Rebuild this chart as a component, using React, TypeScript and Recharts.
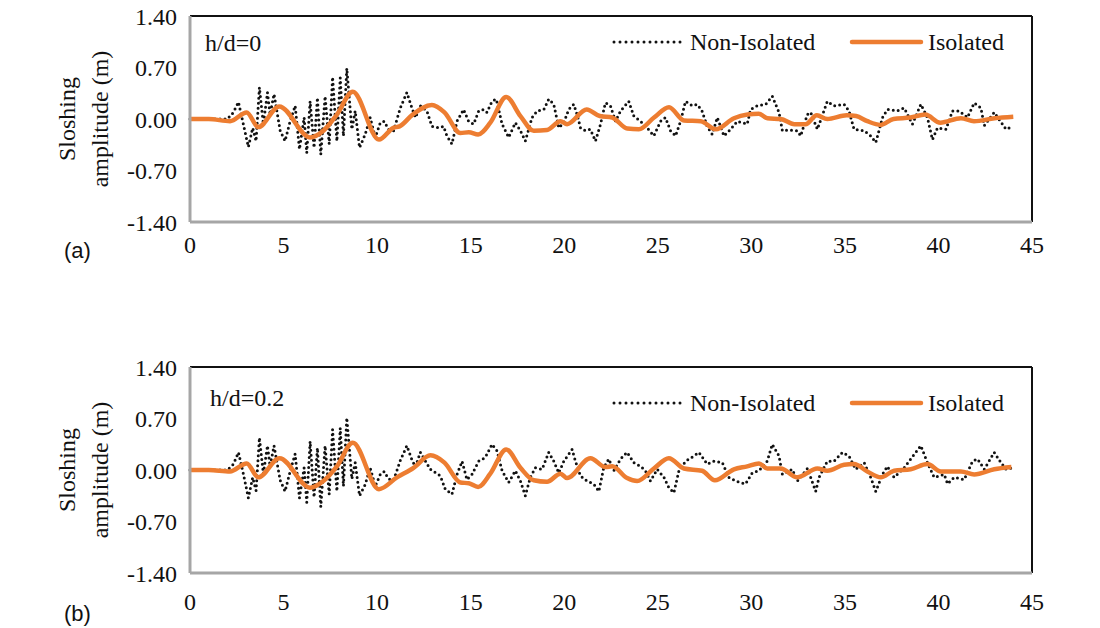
import React from 'react';
import { LineChart, Line, XAxis, YAxis, ReferenceLine, Customized } from 'recharts';

type Pt = [number, number];

const xTicks = [0, 5, 10, 15, 20, 25, 30, 35, 40, 45];
const yTicks = [-1.4, -0.7, 0, 0.7, 1.4];

// (a) h/d = 0  — [time (s), amplitude (m)]
const nonIsolatedA: Pt[] = [
  [0, 0], [1, 0], [2, 0], [2.32, 0.09], [2.59, 0.23], [2.85, -0.07], [3.12, -0.38], [3.35, -0.12], [3.53, -0.3],
  [3.71, 0.43], [3.92, -0.07], [4.14, 0.36], [4.28, 0.06], [4.49, 0.34], [4.82, -0.16], [5.08, -0.3], [5.35, -0.03],
  [5.62, 0.18], [5.85, -0.41], [6.1, 0.02], [6.24, -0.46], [6.42, 0.24], [6.63, -0.39], [6.81, 0.29], [6.99, -0.48],
  [7.22, 0.31], [7.44, -0.34], [7.62, 0.57], [7.85, -0.3], [8.03, 0.56], [8.2, -0.23], [8.38, 0.69], [8.65, -0.14],
  [8.83, 0.11], [9.06, -0.39], [9.36, -0.21], [9.63, 0.02], [9.9, -0.25], [10.17, -0.05], [10.38, -0.03], [10.61, -0.14],
  [10.88, -0.16], [11.24, 0.15], [11.59, 0.36], [11.86, 0.15], [12.05, 0.02], [12.31, 0.18], [12.66, 0.11], [12.93, -0.1],
  [13.29, -0.12], [13.55, -0.1], [13.73, -0.23], [14.0, -0.34], [14.27, -0.03], [14.62, 0.13], [14.89, -0.03], [15.16, -0.07],
  [15.43, 0.11], [15.69, 0.13], [15.87, 0.09], [16.14, 0.24], [16.37, 0.27], [16.68, -0.07], [17.03, -0.25], [17.39, -0.05],
  [17.66, -0.16], [17.92, -0.3], [18.28, 0.02], [18.55, 0.11], [18.91, 0.13], [19.17, 0.27], [19.44, 0.2], [19.71, -0.12],
  [19.98, -0.05], [20.24, 0.13], [20.51, 0.2], [20.69, 0.06], [20.87, -0.12], [21.13, -0.16], [21.4, -0.14], [21.67, -0.3],
  [21.94, -0.07], [22.2, 0.22], [22.47, 0.18], [22.74, -0.03], [23.01, 0.11], [23.45, 0.24], [23.72, 0.04], [24.08, -0.03],
  [24.43, -0.12], [24.79, -0.23], [25.15, -0.03], [25.41, 0.02], [25.68, -0.16], [25.95, -0.23], [26.22, -0.03], [26.48, 0.24],
  [26.84, 0.18], [27.1, 0.2], [27.35, 0.12], [27.64, -0.1], [27.91, -0.21], [28.18, 0.02], [28.54, -0.23], [28.89, -0.14],
  [29.25, -0.03], [29.78, -0.07], [29.96, 0.13], [30.32, 0.18], [30.77, 0.2], [31.12, 0.31], [31.48, 0.09], [31.66, -0.16],
  [32.01, -0.15], [32.46, -0.16], [32.64, -0.23], [32.99, 0.06], [33.17, 0.09], [33.53, -0.14], [34.06, 0.24], [34.42, 0.18],
  [34.96, 0.2], [35.22, 0.11], [35.49, -0.14], [36.03, -0.16], [36.38, -0.23], [36.65, -0.32], [37.01, 0.02], [37.27, 0.13],
  [37.81, 0.11], [38.17, 0.15], [38.61, -0.07], [39.06, 0.2], [39.41, 0.02], [39.68, -0.28], [39.95, -0.12], [40.4, -0.14],
  [40.75, 0.11], [41.11, 0.11], [41.55, 0.02], [41.91, 0.22], [42.27, 0.15], [42.45, -0.09], [42.98, 0.09], [43.61, -0.14],
  [44.0, -0.1],
];

const isolatedA: Pt[] = [
  [0, 0], [1, 0], [2.14, -0.03], [3.03, 0.09], [3.65, -0.11], [4.77, 0.17], [6.42, -0.25], [7.13, -0.16], [7.85, 0.06],
  [8.7, 0.37], [10.1, -0.28], [10.87, -0.12], [11.2, -0.1], [11.9, 0.06], [12.93, 0.19], [13.6, 0.09], [14.45, -0.19],
  [14.9, -0.18], [15.4, -0.21], [16.05, -0.05], [16.9, 0.3], [17.66, 0.04], [18.37, -0.16], [19.08, -0.15], [19.8, -0.03],
  [20.15, -0.07], [21.2, 0.13], [21.9, 0.04], [22.56, 0.02], [23.37, -0.13], [23.99, -0.14], [24.8, 0.02], [25.6, 0.16],
  [26.4, -0.02], [27.3, -0.03], [28.1, -0.14], [29.07, 0.01], [29.8, 0.06], [30.4, 0.07], [30.86, 0.01], [31.57, 0],
  [32.3, -0.07], [32.9, -0.07], [33.5, 0.05], [34.06, 0], [35.1, 0.05], [35.6, 0.04], [36.2, -0.03], [36.9, -0.08],
  [37.6, 0], [38.5, 0.02], [39.3, 0.06], [40.1, -0.05], [41.2, 0.01], [41.9, -0.03], [43.0, 0.01], [44.0, 0.03],
];

// (b) h/d = 0.2
const nonIsolatedB: Pt[] = [
  [0, 0], [1, 0], [2, 0], [2.32, 0.08], [2.59, 0.24], [2.85, -0.05], [3.12, -0.38], [3.35, -0.1], [3.53, -0.28],
  [3.71, 0.44], [3.92, -0.05], [4.14, 0.33], [4.28, 0.05], [4.49, 0.33], [4.82, -0.14], [5.08, -0.29], [5.35, -0.02],
  [5.62, 0.22], [5.85, -0.38], [6.1, 0.03], [6.24, -0.44], [6.42, 0.39], [6.63, -0.37], [6.81, 0.3], [6.99, -0.5],
  [7.22, 0.33], [7.44, -0.33], [7.62, 0.55], [7.85, -0.29], [8.03, 0.57], [8.2, -0.22], [8.38, 0.71], [8.65, -0.12],
  [8.83, 0.1], [9.06, -0.35], [9.36, -0.2], [9.63, 0.03], [9.9, -0.22], [10.17, -0.06], [10.38, -0.02], [10.61, -0.12],
  [10.88, -0.14], [11.24, 0.13], [11.59, 0.33], [11.86, 0.14], [12.05, 0.04], [12.31, 0.24], [12.84, 0.01], [13.38, -0.08],
  [13.64, -0.26], [14.0, -0.33], [14.27, -0.06], [14.54, 0.12], [14.8, -0.13], [15.07, -0.06], [15.43, 0.12], [15.78, 0.17],
  [16.14, 0.35], [16.41, 0.26], [16.68, -0.01], [17.03, -0.17], [17.39, -0.01], [17.66, -0.15], [17.92, -0.35], [18.19, -0.1],
  [18.46, 0.03], [18.82, 0.01], [19.17, 0.24], [19.44, 0.12], [19.71, -0.04], [19.98, 0.12], [20.42, 0.28], [20.6, 0.12],
  [20.87, -0.08], [21.22, -0.15], [21.58, -0.19], [21.85, -0.29], [22.11, 0.03], [22.38, 0.15], [22.65, -0.01], [23.01, 0.15],
  [23.36, 0.24], [23.72, 0.1], [24.08, 0.05], [24.34, -0.01], [24.61, -0.15], [24.97, 0.01], [25.33, -0.1], [25.59, -0.24],
  [25.86, -0.31], [26.13, -0.01], [26.49, 0.12], [26.93, 0.19], [27.2, 0.24], [27.64, 0.08], [28.0, 0.12], [28.45, 0.1],
  [28.8, -0.1], [29.16, -0.15], [29.69, -0.19], [30.05, -0.04], [30.41, -0.01], [30.85, 0.12], [31.12, 0.35], [31.48, 0.19],
  [31.66, -0.06], [32.19, 0.01], [32.46, -0.15], [33.0, 0.02], [33.44, -0.29], [33.62, -0.1], [34.06, 0.12], [34.42, 0.12],
  [34.87, 0.24], [35.22, 0.19], [35.58, 0.01], [36.03, 0.1], [36.38, -0.1], [36.65, -0.29], [37.01, -0.06], [37.27, 0.05],
  [37.63, -0.1], [38.17, 0.03], [38.7, 0.21], [39.06, 0.33], [39.41, 0.1], [39.77, -0.1], [40.31, -0.06], [40.49, -0.19],
  [40.84, -0.1], [41.38, -0.13], [41.82, 0.12], [42.09, 0.15], [42.45, 0.01], [42.98, 0.24], [43.34, 0.1], [43.61, 0.01],
  [43.96, 0.03],
];

const isolatedB: Pt[] = [
  [0, 0], [1, 0], [2.14, -0.02], [3.03, 0.09], [3.65, -0.1], [4.78, 0.16], [6.42, -0.24], [7.13, -0.15], [7.85, 0.05],
  [8.7, 0.37], [10.1, -0.26], [11.06, -0.1], [11.95, 0.03], [12.85, 0.2], [13.6, 0.1], [14.45, -0.17], [14.9, -0.18],
  [15.4, -0.23], [16.05, -0.05], [16.9, 0.28], [17.66, 0.03], [18.37, -0.14], [19.08, -0.16], [19.8, -0.05], [20.15, -0.11],
  [21.4, 0.16], [22.2, 0.04], [22.56, 0.05], [23.36, -0.11], [23.9, -0.15], [24.79, 0.02], [25.59, 0.16], [26.4, 0.02],
  [27.37, -0.01], [28.05, -0.14], [29.07, 0.01], [29.78, 0.05], [30.41, 0.09], [30.85, 0.02], [31.57, 0.02], [32.46, -0.1],
  [33.53, 0.02], [34.06, -0.01], [34.96, 0.07], [35.49, 0.08], [36.2, -0.02], [36.92, -0.1], [37.63, -0.01], [38.52, 0.01],
  [39.41, 0.08], [40.13, -0.02], [41.2, -0.02], [41.91, -0.06], [42.98, 0.01], [43.9, 0.04],
];

const SERIF = "'Liberation Serif', 'Times New Roman', serif";
const SANS = "'Liberation Sans', Arial, sans-serif";
const ORANGE = '#ED7D31';
const INK = '#111';

const toRows = (pts: Pt[]) => pts.map(([t, v]) => ({ t, v }));

interface AnnoProps {
  caseLabel: string;
  caseX: number;
  caseY: number;
  legendY: number;
  tag: string;
  tagY: number;
}

const Annotations = ({ caseLabel, caseX, caseY, legendY, tag, tagY }: AnnoProps) => (
  <g>
    <text transform="translate(67,119) rotate(-90)" textAnchor="middle" dominantBaseline="central"
      fontFamily={SERIF} fontSize={24} fill={INK}>Sloshing</text>
    <text transform="translate(100,119) rotate(-90)" textAnchor="middle" dominantBaseline="central"
      fontFamily={SERIF} fontSize={24} fill={INK}>amplitude (m)</text>
    <text x={caseX} y={caseY} dominantBaseline="central" fontFamily={SERIF} fontSize={24} fill={INK}>{caseLabel}</text>
    <line x1={614} x2={683} y1={legendY} y2={legendY} stroke={INK} strokeWidth={3}
      strokeDasharray="0 6" strokeLinecap="round" />
    <text x={690} y={legendY} dominantBaseline="central" fontFamily={SERIF} fontSize={24} fill={INK}>Non-Isolated</text>
    <line x1={852} x2={921} y1={legendY} y2={legendY} stroke={ORANGE} strokeWidth={4.5} strokeLinecap="round" />
    <text x={928} y={legendY} dominantBaseline="central" fontFamily={SERIF} fontSize={24} fill={INK}>Isolated</text>
    <text x={64} y={tagY} dominantBaseline="central" fontFamily={SANS} fontSize={22} fill={INK}>{tag}</text>
  </g>
);

interface PanelProps extends AnnoProps {
  top: number;
  nonIso: Pt[];
  iso: Pt[];
  xTickMargin: number;
}

const tickStyle = { fill: INK, fontSize: 24, fontFamily: SERIF };

const Panel = ({ top, nonIso, iso, xTickMargin, ...anno }: PanelProps) => (
  <div style={{ position: 'absolute', left: 0, top, fontFamily: SERIF }}>
    <LineChart width={1100} height={280} margin={{ top: 16, right: 68, bottom: 18, left: 0 }}
      style={{ fontFamily: SERIF }}>
      <XAxis
        dataKey="t"
        type="number"
        domain={[0, 45]}
        ticks={xTicks}
        interval={0}
        height={40}
        tickLine={false}
        tickSize={0}
        tickMargin={xTickMargin}
        axisLine={{ stroke: '#a6a6a6', strokeWidth: 3 }}
        tick={tickStyle}
        fontFamily={SERIF}
      />
      <YAxis
        type="number"
        domain={[-1.4, 1.4]}
        ticks={yTicks}
        interval={0}
        width={190}
        tickLine={false}
        tickSize={0}
        tickMargin={13}
        axisLine={{ stroke: '#a6a6a6', strokeWidth: 3 }}
        tick={tickStyle}
        fontFamily={SERIF}
        tickFormatter={(v: number) => v.toFixed(2)}
      />
      <ReferenceLine y={1.4} stroke={INK} strokeWidth={2} />
      <ReferenceLine x={45} stroke={INK} strokeWidth={2} />
      <Line
        data={toRows(nonIso)}
        dataKey="v"
        type="linear"
        stroke={INK}
        strokeWidth={3}
        strokeDasharray="0 5"
        strokeLinecap="round"
        dot={false}
        isAnimationActive={false}
      />
      <Line
        data={toRows(iso)}
        dataKey="v"
        type="monotone"
        stroke={ORANGE}
        strokeWidth={4.5}
        dot={false}
        isAnimationActive={false}
      />
      <Customized component={() => <Annotations {...anno} />} />
    </LineChart>
  </div>
);

export default function App() {
  return (
    <div style={{ position: 'absolute', left: 0, top: 0, width: 1100, height: 628, overflow: 'hidden', background: '#fff' }}>
      <Panel top={0} nonIso={nonIsolatedA} iso={isolatedA} xTickMargin={14}
        caseLabel="h/d=0" caseX={205} caseY={43} legendY={42} tag="(a)" tagY={250} />
      <Panel top={351} nonIso={nonIsolatedB} iso={isolatedB} xTickMargin={20}
        caseLabel="h/d=0.2" caseX={210} caseY={47} legendY={52} tag="(b)" tagY={262} />
    </div>
  );
}
